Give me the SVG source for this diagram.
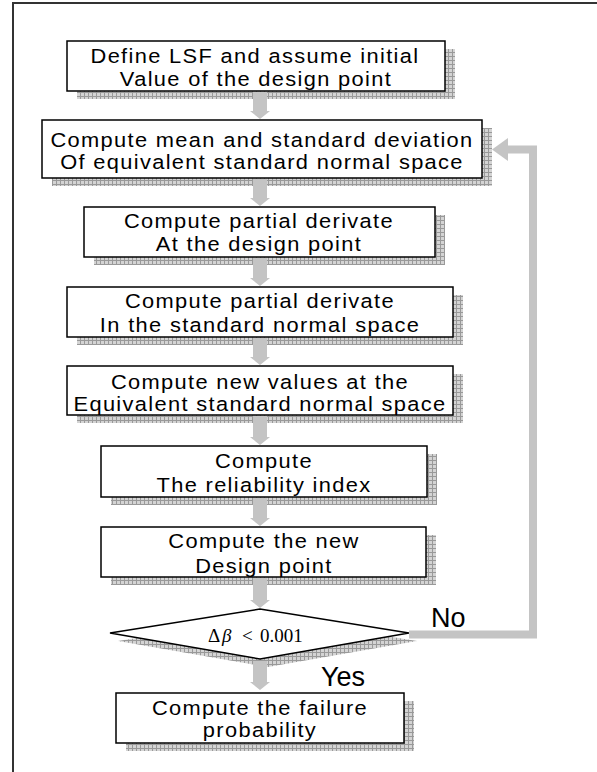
<svg xmlns="http://www.w3.org/2000/svg" width="597" height="772" viewBox="0 0 597 772">
<defs>
<pattern id="hatch" width="4" height="4" patternUnits="userSpaceOnUse">
<rect width="4" height="4" fill="#d4d4d4"/>
<path d="M0,0.5H4M0.5,0V4" stroke="#999" stroke-width="1"/>
</pattern>
<style>
.shadow{fill:url(#hatch);stroke:none}
.box{fill:#fff;stroke:#000;stroke-width:1.5}
.t{font-family:"Liberation Sans",Arial,sans-serif;font-size:19.5px;letter-spacing:1.2px;fill:#000;text-anchor:middle;transform-box:fill-box;transform-origin:center;transform:scaleX(1.12)}
.lbl{font-family:"Liberation Sans",Arial,sans-serif;font-size:27px;fill:#000}
.eq{font-family:"Liberation Serif","Times New Roman",serif;font-size:19px;fill:#000}
.arr{fill:#c4c4c4;stroke:none}
.fb{fill:none;stroke:#c4c4c4;stroke-width:8}
</style>
</defs>
<rect width="597" height="772" fill="#fff"/>
<path d="M13,772V3H597" fill="none" stroke="#333" stroke-width="2"/>

<g id="n1">
<rect class="shadow" x="77" y="49" width="378" height="50"/>
<rect class="box" x="67" y="41" width="378" height="50"/>
<text class="t" x="255" y="63">Define LSF and assume initial</text>
<text class="t" x="256" y="86">Value of the design point</text>
</g>
<g id="n2">
<rect class="shadow" x="52" y="128" width="440" height="58"/>
<rect class="box" x="42" y="120" width="440" height="58"/>
<text class="t" x="262" y="147">Compute mean and standard deviation</text>
<text class="t" x="262" y="169">Of equivalent standard normal space</text>
</g>
<g id="n3">
<rect class="shadow" x="94" y="215" width="351" height="50"/>
<rect class="box" x="84" y="207" width="351" height="50"/>
<text class="t" x="259" y="228">Compute partial derivate</text>
<text class="t" x="259" y="251">At the design point</text>
</g>
<g id="n4">
<rect class="shadow" x="77" y="295" width="386" height="50"/>
<rect class="box" x="67" y="287" width="386" height="50"/>
<text class="t" x="260" y="308">Compute partial derivate</text>
<text class="t" x="260" y="332">In the standard normal space</text>
</g>
<g id="n5">
<rect class="shadow" x="77" y="374" width="386" height="49"/>
<rect class="box" x="67" y="366" width="386" height="49"/>
<text class="t" x="260" y="389">Compute new values at the</text>
<text class="t" x="260" y="411">Equivalent standard normal space</text>
</g>
<g id="n6">
<rect class="shadow" x="111" y="454" width="326" height="51"/>
<rect class="box" x="101" y="446" width="326" height="51"/>
<text class="t" x="264" y="468">Compute</text>
<text class="t" x="264" y="492">The reliability index</text>
</g>
<g id="n7">
<rect class="shadow" x="111" y="535" width="325" height="50"/>
<rect class="box" x="101" y="527" width="325" height="50"/>
<text class="t" x="264" y="548">Compute the new</text>
<text class="t" x="264" y="573">Design point</text>
</g>
<g id="n9">
<polygon class="shadow" points="118,641 268,617 417,641 268,667"/>
<polygon class="box" points="110,633 260,609 409,633 260,659"/>
<text class="eq" y="642"><tspan x="208">Δ</tspan><tspan x="222" font-style="italic">β</tspan><tspan x="242">&lt;</tspan><tspan x="260">0.001</tspan></text>
</g>
<g id="n8">
<rect class="shadow" x="126" y="701" width="288" height="50"/>
<rect class="box" x="116" y="693" width="288" height="50"/>
<text class="t" x="260" y="715">Compute the failure</text>
<text class="t" x="260" y="737">probability</text>
</g>

<g id="connectors">
<polygon class="arr" points="253,92 267,92 267,111 270,111 260,119 250,111 253,111"/>
<polygon class="arr" points="253,179 267,179 267,198 270,198 260,206 250,198 253,198"/>
<polygon class="arr" points="253,258 267,258 267,278 270,278 260,286 250,278 253,278"/>
<polygon class="arr" points="253,338 267,338 267,357 270,357 260,365 250,357 253,357"/>
<polygon class="arr" points="253,416 267,416 267,437 270,437 260,445 250,437 253,437"/>
<polygon class="arr" points="253,498 267,498 267,518 270,518 260,526 250,518 253,518"/>
<polygon class="arr" points="253,578 267,578 267,600 270,600 260,608 250,600 253,600"/>
<polygon class="arr" points="253,661 267,661 267,682 270,682 260,690 250,682 253,682"/>
<path class="fb" d="M409,634.5H533V149.5H506"/>
<polygon class="arr" points="508,138 492,149.5 508,161"/>
<text class="lbl" x="431" y="627">No</text>
<text class="lbl" x="321" y="686">Yes</text>
</g>
</svg>
